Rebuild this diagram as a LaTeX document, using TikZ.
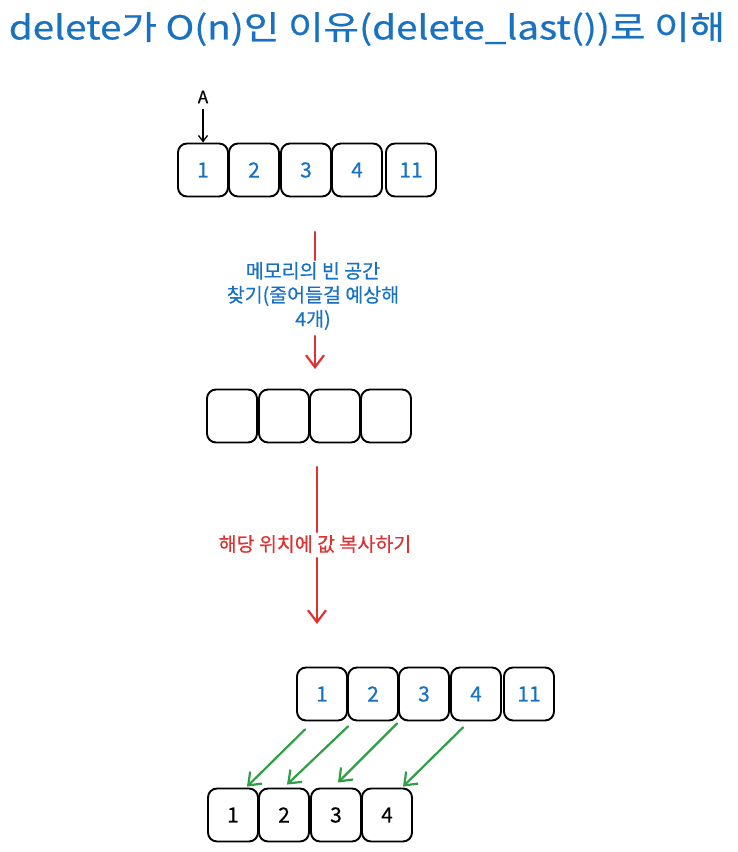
\documentclass[tikz,border=0pt]{standalone}
\usepackage{fontspec}
\setmainfont[FakeBold=0.5]{Noto Sans CJK KR}
\newfontfamily\titlefont[FakeStretch=1.17,FakeBold=0.6]{Noto Sans CJK KR}
\usetikzlibrary{arrows.meta,calc}
\definecolor{xblue}{HTML}{1971C2}
\definecolor{xred}{HTML}{E03131}
\definecolor{xgreen}{HTML}{2F9E44}
\begin{document}
\begin{tikzpicture}[x=1pt,y=-1pt,
  cell/.style={draw=black,line width=1.9pt,rounded corners=9pt,minimum width=50pt,minimum height=53pt,inner sep=0pt,font=\fontsize{21}{24}\selectfont},
  bluenum/.style={text=xblue},
  barb/.style={-{Straight Barb[length=12pt,width=18pt,line width=2.2pt]}},
  redarrow/.style={draw=xred,line width=2.2pt,line cap=round},
  greenarrow/.style={draw=xgreen,line width=2.2pt,line cap=round,-{Straight Barb[length=11pt,width=17pt,line width=2.2pt]}},
  lbl/.style={font=\fontsize{19.5}{24}\selectfont,align=center,inner sep=0pt}
]
\useasboundingbox (0,0) rectangle (738,852);
% title
\node[text=xblue,font=\titlefont\fontsize{33}{36}\selectfont,inner sep=0pt] (title) at (367,29) {delete가 O(n)인 이유(delete\_last())로 이해};

% top row
\node[cell,bluenum] (a1) at (203,170) {1};
\node[cell,bluenum] (a2) at (254,170) {2};
\node[cell,bluenum] (a3) at (306,170) {3};
\node[cell,bluenum] (a4) at (357,170) {4};
\node[cell,bluenum] (a5) at (411,170) {11};
\node[font=\fontsize{17}{18}\selectfont\itshape,inner sep=0pt] (lblA) at (203,97) {A};
\draw[line width=1.3pt,-{Straight Barb[length=6pt,width=9pt,line width=1.3pt]}] (lblA.south) ++(0,6) coordinate (aS) -- (a1.north);

% red arrow 1
\coordinate (r1s) at (315,232);
\coordinate (r1e) at (315,369);
\node[lbl,text=xblue] (t1) at (313,296) {메모리의 빈 공간\\찾기(줄어들걸 예상해\\4개)};
\draw[redarrow] (r1s) -- (315,260);
\draw[redarrow,barb] (315,336) -- (r1e);

% middle row
\node[cell] (b1) at (232,416) {};
\node[cell] (b2) at (284,416) {};
\node[cell] (b3) at (335,416) {};
\node[cell] (b4) at (386,416) {};

% red arrow 2
\coordinate (r2s) at (317,467);
\coordinate (r2e) at (317,624);
\node[lbl,text=xred] (t2) at (315,544) {해당 위치에 값 복사하기};
\draw[redarrow] (r2s) -- (317,532);
\draw[redarrow,barb] (317,558) -- (r2e);

% bottom upper row
\node[cell,bluenum] (u1) at (322,694) {1};
\node[cell,bluenum] (u2) at (373,694) {2};
\node[cell,bluenum] (u3) at (424,694) {3};
\node[cell,bluenum] (u4) at (476,694) {4};
\node[cell,bluenum] (u5) at (529,694) {11};

% bottom lower row
\node[cell] (l1) at (233,815) {1};
\node[cell] (l2) at (284,815) {2};
\node[cell] (l3) at (336,815) {3};
\node[cell] (l4) at (387,815) {4};

% green arrows
\draw[greenarrow] ($(u1.south)+(-17,8)$) -- ($(l1.north)+(14,-1)$);
\draw[greenarrow] ($(u2.south)+(-25,5)$) -- ($(l2.north)+(3,-3)$);
\draw[greenarrow] ($(u3.south)+(-27,2)$) -- ($(l3.north)+(2,-5)$);
\draw[greenarrow] ($(u4.south)+(-13,6)$) -- ($(l4.north)+(16,-1)$);
\end{tikzpicture}
\end{document}
